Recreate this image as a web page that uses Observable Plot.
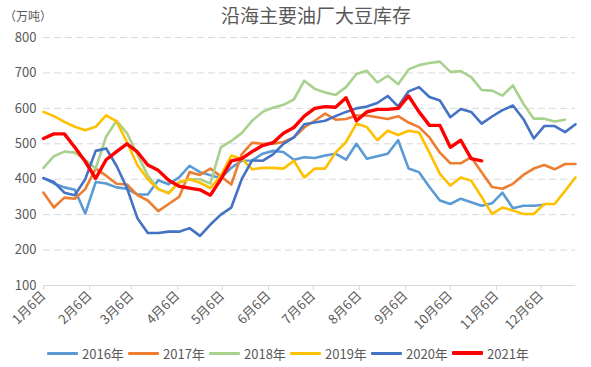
<!DOCTYPE html>
<html>
<head>
<meta charset="utf-8">
<script src="https://cdn.jsdelivr.net/npm/d3@7"></script>
<script src="https://cdn.jsdelivr.net/npm/@observablehq/plot@0.6"></script>
<style>
  body { margin: 0; background: #fff; font-family: "Noto Sans CJK SC", "Noto Sans", sans-serif; }
  #wrap { position: relative; width: 591px; height: 367px; overflow: hidden; background: #fff; }
  #title { position: absolute; z-index: 2; left: 43px; width: 546px; top: 3px; line-height: 23px; text-align: center; font-size: 19px; color: #595959; }
  #unit { position: absolute; z-index: 2; left: 4px; top: 9px; line-height: 14px; font-size: 12px; color: #595959; }
  #chart { position: absolute; z-index: 1; left: 0; top: 20px; }
  #legend { position: absolute; left: 47px; top: 344px; height: 18px; display: flex; align-items: center; font-size: 13px; color: #595959; }
  .item { display: flex; align-items: center; width: 81px; }
  .swatch { width: 31px; height: 3px; margin-right: 4px; border-radius: 1px; }
</style>
</head>
<body>
<div id="wrap">
  <div id="chart"></div>
  <div id="title">沿海主要油厂大豆库存</div>
  <div id="unit">（万吨）</div>
  <div id="legend"></div>
</div>
<script>
// ---- data (万吨, weekly from 1月6日) ----
const years = ["2016年", "2017年", "2018年", "2019年", "2020年", "2021年"];
const colors = ["#5B9BD5", "#ED7D31", "#A9D18E", "#FFC000", "#4472C4", "#FF0000"];
const widths = [2.6, 2.6, 2.6, 2.6, 2.6, 3.4];

const s2016 = [403,388,377,370,303,392,388,377,373,357,357,397,386,405,438,420,411,403,432,452,453,472,480,477,455,462,460,467,472,455,500,458,465,472,510,430,420,378,340,330,345,335,325,332,362,318,325,325,328];
const s2017 = [362,320,348,345,372,430,410,387,385,355,340,310,330,350,420,412,430,408,385,470,503,500,500,505,518,546,565,585,568,570,580,580,575,570,578,560,547,518,475,445,445,462,420,378,373,387,412,430,440,428,443,443];
const s2018 = [432,465,478,475,455,430,520,565,530,470,410,372,362,390,400,400,388,490,508,530,565,590,602,610,625,678,655,645,638,660,697,706,673,692,668,710,722,728,732,703,705,688,652,650,636,665,613,571,571,563,568];
const s2019 = [590,578,562,548,538,548,580,563,505,440,400,372,360,392,400,390,375,410,467,458,428,432,432,430,452,405,430,430,475,505,557,547,510,537,525,537,532,475,415,382,405,396,350,302,320,312,302,302,330,330,367,405];
const s2020 = [403,392,362,355,400,480,487,438,375,290,248,248,252,252,262,240,272,300,320,400,453,452,470,500,518,555,560,565,578,590,600,605,615,635,605,648,660,632,622,575,598,590,557,577,595,608,570,515,550,550,533,555];
const s2021 = [515,528,528,490,450,402,455,478,500,477,440,425,397,380,375,370,355,400,452,458,478,495,503,530,546,578,600,605,603,630,565,590,597,597,600,635,590,552,552,490,510,458,452];

const tickLabels = ["1月6日","2月6日","3月6日","4月6日","5月6日","6月6日","7月6日","8月6日","9月6日","10月6日","11月6日","12月6日"];
const yTicks = [100, 200, 300, 400, 500, 600, 700, 800];

// ---- build table ----
const series = [s2016, s2017, s2018, s2019, s2020, s2021];
const weekDate = i => new Date(Date.UTC(2021, 0, 6 + 7 * i));
const rows = [];
series.forEach((vals, k) => vals.forEach((v, i) => rows.push({ year: years[k], date: weekDate(i), value: v })));
const tickDates = tickLabels.map((_, m) => new Date(Date.UTC(2021, m, 6)));

const lineMarks = years.map((y, k) =>
  Plot.line(rows.filter(r => r.year === y), {
    x: "date", y: "value", stroke: colors[k], strokeWidth: widths[k],
    strokeLinejoin: "round", strokeLinecap: "round"
  })
);

const chart = Plot.plot({
  width: 591,
  height: 315,
  marginLeft: 43,
  marginRight: 16,
  marginTop: 17,
  marginBottom: 50,
  style: { fontFamily: '"Noto Sans CJK SC", "Noto Sans", sans-serif', fontSize: "13px", color: "#595959", background: "transparent" },
  x: { type: "utc", domain: [weekDate(0), weekDate(51)] },
  y: { domain: [100, 800] },
  marks: [
    Plot.ruleY(yTicks.filter(t => t > 100), { stroke: "#D9D9D9", strokeDasharray: "7,4", strokeWidth: 1 }),
    Plot.ruleY([100], { stroke: "#D9D9D9", strokeWidth: 1 }),
    Plot.axisY({ ticks: yTicks, tickSize: 0, tickPadding: 7, label: null, fill: "#595959" }),
    Plot.axisX({
      ticks: tickDates, tickFormat: d => tickLabels[d.getUTCMonth()],
      tickRotate: -45, tickSize: 5, tickPadding: 3, label: null,
      stroke: "#D9D9D9", fill: "#595959"
    }),
    ...lineMarks
  ]
});
document.getElementById("chart").appendChild(chart);

// ---- legend ----
const legend = document.getElementById("legend");
years.forEach((y, k) => {
  const item = document.createElement("div");
  item.className = "item";
  const sw = document.createElement("span");
  sw.className = "swatch";
  sw.style.background = colors[k];
  if (k === 5) sw.style.height = "4px";
  const tx = document.createElement("span");
  tx.textContent = y;
  item.appendChild(sw);
  item.appendChild(tx);
  legend.appendChild(item);
});
</script>
</body>
</html>
